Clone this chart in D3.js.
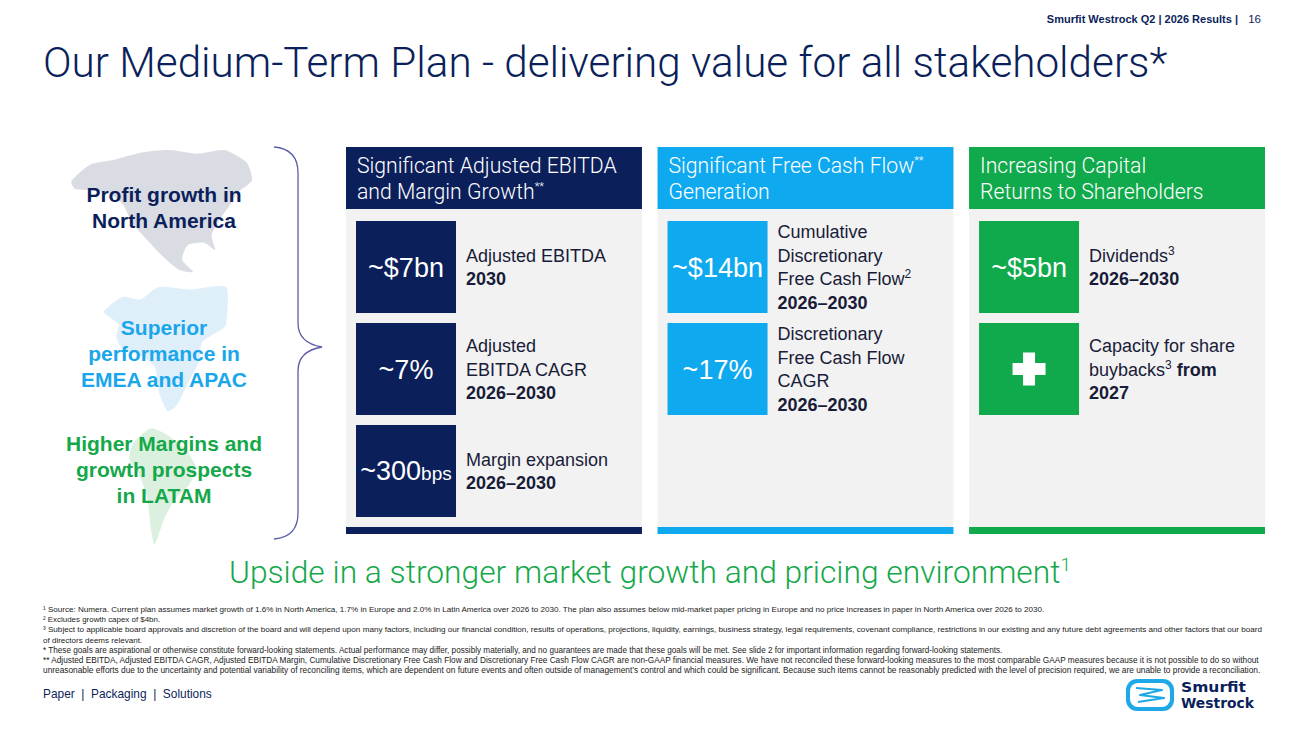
<!DOCTYPE html>
<html><head><meta charset="utf-8">
<script src="https://cdn.jsdelivr.net/npm/d3@7"></script>
<style>body{margin:0;background:#fff}svg{display:block}</style>
</head><body>
<svg id="slide" width="1300" height="731"></svg>
<script>
// ---------- data ----------
const headerLines = [
  ["Significant Adjusted EBITDA", "and Margin Growth^**"],
  ["Significant Free Cash Flow^**", "Generation"],
  ["Increasing Capital", "Returns to Shareholders"]
];
const boxValues = [
  ["~$7bn", "~7%", "~300|bps"],
  ["~$14bn", "~17%"],
  ["~$5bn", "+"]
];
const boxLabels = [
  [["Adjusted EBITDA", "*2030*"], ["Adjusted", "EBITDA CAGR", "*2026–2030*"], ["Margin expansion", "*2026–2030*"]],
  [["Cumulative", "Discretionary", "Free Cash Flow^2", "*2026–2030*"], ["Discretionary", "Free Cash Flow", "CAGR", "*2026–2030*"]],
  [["Dividends^3", "*2026–2030*"], ["Capacity for share", "buybacks^3 *from*", "*2027*"]]
];
const regions = [
  ["Profit growth in", "North America"],
  ["Superior", "performance in", "EMEA and APAC"],
  ["Higher Margins and", "growth prospects", "in LATAM"]
];
const titleText = "Our Medium-Term Plan - delivering value for all stakeholders*";
const upsideText = "Upside in a stronger market growth and pricing environment";
const topRight = "Smurfit Westrock Q2 | 2026 Results |";
const pageNo = "16";
const footerText = "Paper\u00a0\u00a0|\u00a0\u00a0Packaging\u00a0\u00a0|\u00a0\u00a0Solutions";
const footnotes = [
  "¹ Source: Numera. Current plan assumes market growth of 1.6% in North America, 1.7% in Europe and 2.0% in Latin America over 2026 to 2030. The plan also assumes below mid-market paper pricing in Europe and no price increases in paper in North America over 2026 to 2030.",
  "² Excludes growth capex of $4bn.",
  "³ Subject to applicable board approvals and discretion of the board and will depend upon many factors, including our financial condition, results of operations, projections, liquidity, earnings, business strategy, legal requirements, covenant compliance, restrictions in our existing and any future debt agreements and other factors that our board",
  "of directors deems relevant.",
  "* These goals are aspirational or otherwise constitute forward-looking statements. Actual performance may differ, possibly materially, and no guarantees are made that these goals will be met. See slide 2 for important information regarding forward-looking statements.",
  "**  Adjusted EBITDA, Adjusted EBITDA CAGR, Adjusted EBITDA Margin, Cumulative Discretionary Free Cash Flow and Discretionary Free Cash Flow CAGR are non-GAAP financial measures. We have not reconciled these forward-looking measures to the most comparable GAAP measures because it is not possible to do so without",
  "unreasonable efforts due to the uncertainty and potential variability of reconciling items, which are dependent on future events and often outside of management’s control and which could be significant. Because such items cannot be reasonably predicted with the level of precision required, we are unable to provide a reconciliation."
];
const footnoteWidths = [1000, 117, 1216, 99, 957, 1212, 1214];

// decorative map outlines (relative 0..1 units inside their region box)
const mapNA = [[0.02,0.25],[0.12,0.12],[0.25,0.08],[0.4,0.02],[0.55,0.0],[0.7,0.03],[0.85,0.0],[0.97,0.1],[1.0,0.25],[0.92,0.35],[0.88,0.45],[0.82,0.58],[0.78,0.7],[0.8,0.82],[0.74,0.76],[0.65,0.78],[0.62,0.9],[0.68,1.0],[0.6,0.98],[0.5,0.85],[0.42,0.72],[0.35,0.6],[0.3,0.45],[0.22,0.35],[0.12,0.33],[0.04,0.32]];
const mapEU = [[0.0,0.2],[0.15,0.08],[0.3,0.1],[0.45,0.0],[0.7,0.02],[1.0,0.0],[1.0,0.3],[0.9,0.38],[0.8,0.45],[0.78,0.6],[0.7,0.75],[0.6,0.95],[0.52,1.0],[0.45,0.85],[0.42,0.65],[0.3,0.55],[0.15,0.5],[0.1,0.4],[0.12,0.3]];
const mapSA = [[0.1,0.15],[0.35,0.02],[0.6,0.08],[0.85,0.2],[1.0,0.35],[0.9,0.5],[0.7,0.62],[0.55,0.78],[0.45,0.95],[0.4,1.0],[0.35,0.85],[0.3,0.6],[0.18,0.4],[0.05,0.28]];

// ---------- styles ----------
const colColors = ["#0b1f5b", "#0fa9ef", "#10a94b"];
const regionColors = ["#0b1f5b", "#1aa6ea", "#15a84a"];
const mapColors = ["#dadce4", "#deeffa", "#dbf0df"];
const navy = "#0b1f5b";
const labelColor = "#191c38";
const LIGHT = "Roboto, 'Liberation Sans', Arial, sans-serif";
const ARIAL = "'Liberation Sans', Arial, sans-serif";

const svg = d3.select("#slide");

// helpers
function fitWidth(sel, w) {
  const len = sel.node().getComputedTextLength();
  const fs = parseFloat(sel.attr("font-size"));
  sel.attr("font-size", fs * w / len);
}
function richLine(textSel, str, supSize, supShift) {
  const parts = str.split(/(\^\S+|\*[^*]+\*)/).filter(s => s.length);
  let pending = 0;
  parts.forEach(p => {
    let ts;
    if (p.startsWith("^")) {
      ts = textSel.append("tspan").attr("font-size", supSize).attr("dy", pending - supShift).text(p.slice(1));
      pending = supShift;
      return;
    } else if (p.startsWith("*")) {
      ts = textSel.append("tspan").attr("font-weight", "bold").text(p.slice(1, -1));
    } else {
      ts = textSel.append("tspan").text(p);
    }
    if (pending) { ts.attr("dy", pending); pending = 0; }
  });
}

// ---------- top right + title ----------
svg.append("text").attr("x", 1261).attr("y", 23).attr("text-anchor", "end")
  .attr("font-family", ARIAL).attr("font-size", 11.5).attr("fill", navy).text(pageNo);
svg.append("text").attr("x", 1238).attr("y", 23).attr("text-anchor", "end")
  .attr("font-family", ARIAL).attr("font-weight", "bold").attr("font-size", 11).attr("fill", navy).text(topRight);

const title = svg.append("text").attr("x", 43).attr("y", 77)
  .attr("font-family", LIGHT).attr("font-weight", 300).attr("font-size", 40).attr("fill", navy).text(titleText);
fitWidth(title, 1125);

// ---------- columns ----------
const xCol = d3.scaleBand().domain(d3.range(3)).range([346, 1265]).paddingInner(0.05);
const yRow = d3.scaleBand().domain(d3.range(3)).range([221, 517]).paddingInner(0.098);
const headTop = 147, headBot = 209, panelBot = 527, barBot = 534;
const boxOff = 10, boxW = 100;

const cols = svg.selectAll("g.col").data(headerLines).join("g").attr("class", "col");
cols.append("rect").attr("x", (d, i) => xCol(i)).attr("y", headBot)
  .attr("width", xCol.bandwidth()).attr("height", panelBot - headBot).attr("fill", "#f2f2f2");
cols.append("rect").attr("x", (d, i) => xCol(i)).attr("y", headTop)
  .attr("width", xCol.bandwidth()).attr("height", headBot - headTop).attr("fill", (d, i) => colColors[i]);
cols.append("rect").attr("x", (d, i) => xCol(i)).attr("y", panelBot)
  .attr("width", xCol.bandwidth()).attr("height", barBot - panelBot).attr("fill", (d, i) => colColors[i]);

cols.each(function (lines, i) {
  const g = d3.select(this);
  lines.forEach((ln, j) => {
    const t = g.append("text").attr("x", xCol(i) + 11).attr("y", 173 + j * 26)
      .attr("font-family", LIGHT).attr("font-weight", 300).attr("font-size", 21.2).attr("fill", "#fff");
    richLine(t, ln, 11, 9);
  });

  boxValues[i].forEach((v, r) => {
    const bx = xCol(i) + boxOff, by = yRow(r), bh = yRow.bandwidth();
    g.append("rect").attr("x", bx).attr("y", by).attr("width", boxW).attr("height", bh).attr("fill", colColors[i]);
    const cx = bx + boxW / 2, cy = by + bh / 2;
    if (v === "+") {
      const arm = 16.5, th = 6;
      g.append("path").attr("fill", "#fff").attr("d",
        `M${cx - th},${cy - arm}H${cx + th}V${cy - th}H${cx + arm}V${cy + th}H${cx + th}V${cy + arm}H${cx - th}V${cy + th}H${cx - arm}V${cy - th}H${cx - th}Z`);
    } else {
      const t = g.append("text").attr("x", cx).attr("y", cy + 9.5).attr("text-anchor", "middle")
        .attr("font-family", ARIAL).attr("font-size", 27).attr("fill", "#fff");
      const [main, small] = v.split("|");
      t.append("tspan").text(main);
      if (small) t.append("tspan").attr("font-size", 19).text(small);
    }
    const lbl = boxLabels[i][r];
    const n = lbl.length, step = 23.5;
    lbl.forEach((ln, k) => {
      const t = g.append("text").attr("x", bx + boxW + 10).attr("y", cy + (k - (n - 1) / 2) * step + 6.5)
        .attr("font-family", ARIAL).attr("font-size", 18).attr("fill", labelColor);
      richLine(t, ln, 12, 7);
    });
  });
});

// ---------- left region panel ----------
const mapBoxes = [[68, 150, 184, 122], [104, 287, 122, 124], [126, 426, 70, 118]];
[mapNA, mapEU, mapSA].forEach((pts, i) => {
  const [mx, my, mw, mh] = mapBoxes[i];
  const sx = d3.scaleLinear().domain([0, 1]).range([mx, mx + mw]);
  const sy = d3.scaleLinear().domain([0, 1]).range([my, my + mh]);
  svg.append("path").attr("d", d3.line().x(p => sx(p[0])).y(p => sy(p[1])).curve(d3.curveCardinalClosed.tension(0.4))(pts))
    .attr("fill", mapColors[i]);
});

const regionBase = [202, 335, 451];
regions.forEach((lines, i) => {
  lines.forEach((ln, j) => {
    svg.append("text").attr("x", 164).attr("y", regionBase[i] + j * 26).attr("text-anchor", "middle")
      .attr("font-family", ARIAL).attr("font-weight", "bold").attr("font-size", 21)
      .attr("fill", regionColors[i]).text(ln);
  });
});

// brace
const braceTop = 147, braceBot = 539, braceMid = 347, bx0 = 274, bx1 = 298, bTip = 322;
svg.append("path").attr("fill", "none").attr("stroke", "#5a5ea6").attr("stroke-width", 1.3)
  .attr("d", `M${bx0},${braceTop} Q${bx1},${braceTop + 2} ${bx1},${braceTop + 26}
    V${braceMid - 24} Q${bx1},${braceMid - 4} ${bTip},${braceMid}
    Q${bx1},${braceMid + 4} ${bx1},${braceMid + 24}
    V${braceBot - 26} Q${bx1},${braceBot - 2} ${bx0},${braceBot}`);

// ---------- upside ----------
const up = svg.append("text").attr("x", 229).attr("y", 583)
  .attr("font-family", LIGHT).attr("font-weight", 300).attr("font-size", 30).attr("fill", "#15a84a");
up.append("tspan").text(upsideText);
up.append("tspan").attr("font-size", 19).attr("dy", -12).text("1");
fitWidth(up, 843);

// ---------- footnotes ----------
const fnY = d3.scaleLinear().domain([0, footnotes.length - 1]).range([612, 673]);
footnotes.forEach((f, i) => {
  const t = svg.append("text").attr("x", 43).attr("y", fnY(i))
    .attr("font-family", "'Liberation Sans Narrow', 'Liberation Sans', Arial, sans-serif")
    .attr("font-size", 8.4).attr("fill", "#222").text(f);
  fitWidth(t, footnoteWidths[i]);
  if (parseFloat(t.attr("font-size")) > 9.2) t.attr("font-size", 9.2);
});

// ---------- footer ----------
const foot = svg.append("text").attr("x", 43).attr("y", 698).attr("font-family", ARIAL).attr("font-size", 12.5)
  .attr("fill", navy).text(footerText);
fitWidth(foot, 169);

// logo
const lg = svg.append("g");
lg.append("rect").attr("x", 1126).attr("y", 679).attr("width", 48).attr("height", 32).attr("rx", 11).attr("fill", "#1fa8e6");
lg.append("rect").attr("x", 1130).attr("y", 683).attr("width", 40).attr("height", 24).attr("rx", 8).attr("fill", "#fff");
lg.append("path").attr("fill", "none").attr("stroke", "#1fa8e6").attr("stroke-width", 2.2).attr("stroke-linejoin", "round")
  .attr("d", "M1136,688 L1162,690 L1140,695 L1164,698 L1138,702");
lg.append("text").attr("x", 1181).attr("y", 692).attr("font-family", "'DejaVu Sans', sans-serif").attr("font-weight", "bold")
  .attr("font-size", 13.5).attr("fill", navy).attr("textLength", 65).attr("lengthAdjust", "spacingAndGlyphs").text("Smurfit");
lg.append("text").attr("x", 1181).attr("y", 708).attr("font-family", "'DejaVu Sans', sans-serif").attr("font-weight", "bold")
  .attr("font-size", 13.5).attr("fill", navy).attr("textLength", 73).attr("lengthAdjust", "spacingAndGlyphs").text("Westrock");
</script>
</body></html>
